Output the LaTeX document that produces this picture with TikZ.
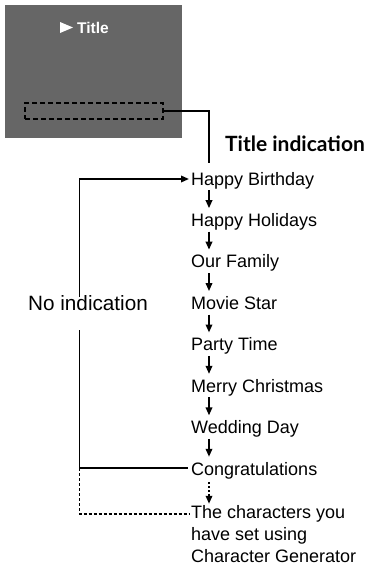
\documentclass[tikz,border=0pt]{standalone}
\usepackage{fontspec}
\setmainfont{Liberation Sans}
\newfontfamily\latofont{Lato}
\usetikzlibrary{arrows.meta}
\definecolor{screengray}{RGB}{102,102,102}
\begin{document}
\begin{tikzpicture}[x=1pt,y=-1pt,
  line/.style={line width=1.8pt},
  arr/.style={line width=1.8pt,-{Triangle[length=8pt,width=6.5pt]}},
  item/.style={anchor=base west,inner sep=0pt,text height=13pt,text depth=4pt,font=\fontsize{18}{22}\selectfont},
]
\useasboundingbox (0,0) rectangle (366,568);
% screen
\fill[screengray] (5,5) rectangle (182,138);
\fill[white] (60,22) -- (73,27.5) -- (60,33) -- cycle;
\node[anchor=base west,inner sep=0pt,text=white,font=\bfseries\fontsize{15.5}{18}\selectfont] (title) at (77,33) {Title};
\node[draw,line width=1.7pt,dash pattern=on 5pt off 3pt,minimum width=138pt,minimum height=16pt,inner sep=0pt] (sel) at (94,111) {};
\coordinate (ti) at (209,163);
\draw[line] (sel.east) -| (ti);
\node[anchor=base west,inner sep=0pt,font=\latofont\bfseries\fontsize{21}{24}\selectfont] (tind) at (225,151) {Title indication};
% items
\node[item] (hb) at (191,185) {Happy Birthday};
\node[item] (hh) at (191,226.4) {Happy Holidays};
\node[item] (of) at (191,267.9) {Our Family};
\node[item] (ms) at (191,309.3) {Movie Star};
\node[item] (pt) at (191,350.7) {Party Time};
\node[item] (mc) at (191,392.1) {Merry Christmas};
\node[item] (wd) at (191,433.6) {Wedding Day};
\node[item] (cg) at (191,475) {Congratulations};
\node[anchor=base west,inner sep=0pt,align=left,font=\fontsize{18}{22}\selectfont] (chars) at (191,562) {The characters you\\have set using\\Character Generator};
\coordinate (ax) at (209,0);
\foreach \a/\b in {hb/hh,hh/of,of/ms,ms/pt,pt/mc,mc/wd,wd/cg}{
  \draw[arr,shorten <=1pt,shorten >=5pt] (\a.south -| ax) -- (\b.north -| ax);
}
\draw[arr,dash pattern=on 2pt off 2pt,shorten <=3pt,shorten >=1pt] (cg.south -| ax) -- (chars.north -| ax);
% left loop
\node[anchor=base west,inner sep=0pt,font=\fontsize{20.7}{24}\selectfont] (noind) at (28,310) {No indication};
\coordinate (L1) at (79.5,179);
\coordinate (L2) at (79.5,297);
\coordinate (L3) at (79.5,330);
\coordinate (L4) at (79.5,468);
\coordinate (L5) at (79.5,514);
\draw[arr] (L2) -- (L1) -- ([xshift=-2pt]L1 -| hb.west);
\draw[line] (L3) -- (L4) -- ([xshift=-3pt]L4 -| cg.west);
\draw[line width=1.6pt,dash pattern=on 3pt off 2pt] (L4) -- (L5) -- ([xshift=-2pt]L5 -| chars.west);
\end{tikzpicture}
\end{document}
